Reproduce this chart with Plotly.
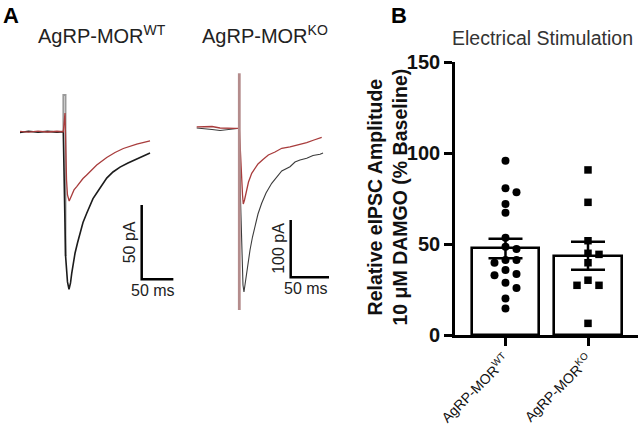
import numpy as np
import plotly.graph_objects as go

W, H = 640, 427
FONT = "Liberation Sans, Arial, sans-serif"

# ---------------- Panel B data ----------------
categories = ["AgRP-MOR<sup>WT</sup>", "AgRP-MOR<sup>KO</sup>"]
wt_values = [95.8, 80.6, 78.4, 72.0, 67.2, 53.5, 48.5, 47.3, 41.2, 41.2,
             39.7, 35.7, 33.5, 32.8, 28.7, 25.8, 20.0, 14.5]
ko_values = [90.7, 72.9, 51.8, 44.9, 44.3, 39.7, 30.1, 27.3, 27.3, 6.4]
y_ticks = [0, 50, 100, 150]

# ---------------- Panel A traces (ms, pA) ----------------
# AgRP-MOR WT, baseline (black)
wt_base_t = [-68.4, -55, -40, -25, -10, 0, 3.6, 5.1, 6.6, 9.0, 11.4, 13.3, 15.3, 18.5,
             22.4, 26.4, 31.1, 37.0, 42.2, 46.9, 52.8, 59.6, 68.6, 78.5, 89.6, 102.2,
             116.0, 125.9, 137.0]
wt_base_i = [-0.5, 0.3, -0.4, 0.2, -0.3, 0, -83.6, -93.1, -101.1, -106.1, -101.8, -95.3,
             -89.0, -81.8, -74.9, -68.4, -61.1, -54.9, -49.0, -45.0, -41.3, -36.9, -31.2,
             -27.1, -23.8, -21.1, -18.4, -16.4, -14.3]
# AgRP-MOR WT, DAMGO (red)
wt_damgo_t = [-68.4, -55, -40, -25, -10, 0, 2.7, 3.5, 5.1, 6.6, 9.3, 11.4, 13.7, 16.9,
              21.2, 26.4, 31.1, 37.0, 42.2, 52.8, 68.6, 81.7, 94.8, 116.0, 137.0]
wt_damgo_i = [0.2, -0.3, 0.4, -0.2, 0.3, 0, 12.6, -12.3, -32.5, -42.6, -46.6, -44.6,
              -41.9, -39.2, -37.0, -33.8, -31.5, -29.1, -26.8, -22.4, -17.4, -14.0,
              -11.3, -8.3, -6.1]
# AgRP-MOR WT, stimulus artifact (grey)
wt_art_t = [0, 0, 3.6, 3.6]
wt_art_i = [0, 24.7, 24.7, -83.6]

# AgRP-MOR KO, baseline (black)
ko_base_t = [-55.6, -44.8, -35.6, -25.2, -14.8, -5.6, 0, 1.6, 3.5, 4.8, 6.1, 7.4, 9.7,
             11.7, 14.0, 17.2, 20.5, 24.4, 29.2, 34.9, 42.3, 48.8, 55.4, 66.2, 72.7,
             79.2, 88.0, 96.2, 105.4, 109.3]
ko_base_i = [0.5, -0.3, -2.1, -3.8, -2.1, 0, 0, -125.0, -229.8, -273.5, -285.7, -273.5,
             -253.1, -231.6, -212.4, -189.7, -171.7, -149.6, -130.9, -112.9, -96.0,
             -85.0, -74.5, -67.0, -58.8, -55.3, -52.4, -47.5, -45.4, -43.1]
# AgRP-MOR KO, DAMGO (red)
ko_damgo_t = [-55.6, -44.8, -35.6, -25.2, -14.8, -5.6, 0, 2.2, 4.2, 5.2, 6.8, 9.7, 12.0,
              16.2, 19.8, 24.4, 30.9, 37.9, 46.6, 55.4, 66.2, 76.6, 88.0, 97.5, 107.6]
ko_damgo_i = [2.6, 2.3, 3.1, 0.5, 0.9, 0, 0, -72.8, -116.4, -132.1, -125.1, -107.7,
              -93.7, -78.5, -71.0, -62.3, -54.5, -46.6, -41.4, -34.9, -32.6, -29.1,
              -25.1, -20.4, -15.7]
# AgRP-MOR KO, stimulus artifact
ko_art_t = [0, 0]
ko_art_i = [96.0, -317.1]

# scale bars (ms, pA)
wt_scale = (50, 50)
ko_scale = (50, 100)


def px(xp):
    return xp / W


def py(yp):
    return 1 - yp / H


fig = go.Figure()

# ---------------- Panel A ----------------
wt_xr = [(15 - 63.3) / 0.633, (185 - 63.3) / 0.633]
wt_yr = [-(320 - 131.7) / 1.486, (131.7 - 60) / 1.486]
ko_xr = [(185 - 239.3) / 0.766, (340 - 239.3) / 0.766]
ko_yr = [-(320 - 128.3) / 0.573, (128.3 - 60) / 0.573]

BLACK_WT = "#1c1c1c"
BLACK_KO = "#3c3c3c"
RED = "#a83c3c"

fig.add_trace(go.Scatter(x=wt_art_t, y=wt_art_i, mode="lines", xaxis="x2", yaxis="y2",
                         line=dict(color="#9a9a9a", width=1.8), showlegend=False, hoverinfo="skip"))
fig.add_trace(go.Scatter(x=wt_base_t, y=wt_base_i, mode="lines", xaxis="x2", yaxis="y2",
                         line=dict(color=BLACK_WT, width=1.6), showlegend=False))
fig.add_trace(go.Scatter(x=wt_damgo_t, y=wt_damgo_i, mode="lines", xaxis="x2", yaxis="y2",
                         line=dict(color=RED, width=1.3), showlegend=False))

fig.add_trace(go.Scatter(x=ko_base_t, y=ko_base_i, mode="lines", xaxis="x3", yaxis="y3",
                         line=dict(color=BLACK_KO, width=1.1), showlegend=False))
fig.add_trace(go.Scatter(x=ko_damgo_t, y=ko_damgo_i, mode="lines", xaxis="x3", yaxis="y3",
                         line=dict(color=RED, width=1.3), showlegend=False))
fig.add_trace(go.Scatter(x=ko_art_t, y=ko_art_i, mode="lines", xaxis="x3", yaxis="y3",
                         line=dict(color="#b48c8c", width=2.8), showlegend=False, hoverinfo="skip"))

# scale bars
wt_sb_t0 = (141.7 - 63.3) / 0.633
wt_sb_i0 = -(279.3 - 131.7) / 1.486
fig.add_trace(go.Scatter(x=[wt_sb_t0, wt_sb_t0, wt_sb_t0 + wt_scale[0]],
                         y=[wt_sb_i0 + wt_scale[1], wt_sb_i0, wt_sb_i0],
                         mode="lines", xaxis="x2", yaxis="y2",
                         line=dict(color="black", width=2.5), showlegend=False))
ko_sb_t0 = (290.7 - 239.3) / 0.766
ko_sb_i0 = -(277.3 - 128.3) / 0.573
fig.add_trace(go.Scatter(x=[ko_sb_t0, ko_sb_t0, ko_sb_t0 + ko_scale[0]],
                         y=[ko_sb_i0 + ko_scale[1], ko_sb_i0, ko_sb_i0],
                         mode="lines", xaxis="x3", yaxis="y3",
                         line=dict(color="black", width=2.5), showlegend=False))

# ---------------- Panel B ----------------
B_X0, B_X1 = 455, 638
B_Y0, B_Y1 = 335, 62
xr = [-0.612, 1.606]
yr = [0, 150]
ppu_x = (B_X1 - B_X0) / (xr[1] - xr[0])
ppu_y = (B_Y0 - B_Y1) / (yr[1] - yr[0])


def swarm(values, step_px=5.5, min_dist=8.6):
    placed = []
    offs = [0.0] * len(values)
    order = sorted(range(len(values)), key=lambda i: -values[i])
    for i in order:
        yv = values[i] * ppu_y
        xv = 0.0
        for k in [0, 1, -1, 2, -2, 3, -3, 4, -4]:
            xv = k * step_px
            if all((xv - a) ** 2 + (yv - b) ** 2 >= min_dist ** 2 for a, b in placed):
                break
        placed.append((xv, yv))
        offs[i] = xv / ppu_x
    return offs


groups = [wt_values, ko_values]
means = [float(np.mean(v)) for v in groups]
sems = [float(np.std(v, ddof=1) / np.sqrt(len(v))) for v in groups]

fig.add_trace(go.Bar(x=[0, 1], y=means, width=0.816,
                     marker=dict(color="white", line=dict(color="black", width=2.6)),
                     error_y=dict(type="data", array=sems, visible=True, color="black",
                                  thickness=2.5, width=17),
                     showlegend=False))

for gi, (vals, sym) in enumerate(zip(groups, ["circle", "square"])):
    offs = swarm(vals)
    fig.add_trace(go.Scatter(x=[gi + o for o in offs], y=vals, mode="markers",
                             marker=dict(symbol=sym, size=8 if sym == "circle" else 7.5,
                                         color="black", line=dict(width=0)),
                             showlegend=False))

fig.update_layout(
    width=W, height=H, margin=dict(l=0, r=0, t=0, b=0, pad=0, autoexpand=False),
    paper_bgcolor="white", plot_bgcolor="rgba(0,0,0,0)",
    font=dict(family=FONT, color="black"),
    bargap=0,
    xaxis=dict(domain=[px(B_X0), px(B_X1)], range=xr, tickvals=[0, 1], ticktext=categories,
               tickangle=-45, ticks="outside", ticklen=8, tickwidth=2.5, tickcolor="black",
               showline=True, linecolor="black", linewidth=2.6, showgrid=False, zeroline=False,
               tickfont=dict(size=14, family=FONT, color="#111"), anchor="y", automargin=False),
    yaxis=dict(domain=[py(B_Y0), py(B_Y1)], range=yr, tickvals=y_ticks,
               ticks="outside", ticklen=8, tickwidth=2.5, tickcolor="black",
               showline=True, linecolor="black", linewidth=2.6, showgrid=False, zeroline=False,
               tickfont=dict(size=20, family="Liberation Sans, Arial", color="#111", weight="bold"),
               anchor="x", automargin=False),
    xaxis2=dict(domain=[px(15), px(185)], range=wt_xr, visible=False, anchor="y2"),
    yaxis2=dict(domain=[py(320), py(60)], range=wt_yr, visible=False, anchor="x2"),
    xaxis3=dict(domain=[px(185), px(340)], range=ko_xr, visible=False, anchor="y3"),
    yaxis3=dict(domain=[py(320), py(60)], range=ko_yr, visible=False, anchor="x3"),
)

ann = []
ann.append(dict(text="<b>A</b>", x=px(1), y=py(15), xref="paper", yref="paper",
                xanchor="left", yanchor="middle", showarrow=False, font=dict(size=22)))
ann.append(dict(text="<b>B</b>", x=px(389), y=py(15), xref="paper", yref="paper",
                xanchor="left", yanchor="middle", showarrow=False, font=dict(size=22)))
ann.append(dict(text="AgRP-MOR<sup>WT</sup>", x=px(101.5), y=py(35), xref="paper", yref="paper",
                xanchor="center", yanchor="middle", showarrow=False, font=dict(size=20, color="#222")))
ann.append(dict(text="AgRP-MOR<sup>KO</sup>", x=px(265), y=py(35), xref="paper", yref="paper",
                xanchor="center", yanchor="middle", showarrow=False, font=dict(size=20, color="#222")))
ann.append(dict(text="Electrical Stimulation", x=px(542), y=py(38), xref="paper", yref="paper",
                xanchor="center", yanchor="middle", showarrow=False, font=dict(size=19.5, color="#333")))
ann.append(dict(text="<b>Relative eIPSC Amplitude<br>10 μM DAMGO (% Baseline)</b>",
                x=px(387), y=py(197.5), xref="paper", yref="paper", textangle=-90,
                xanchor="center", yanchor="middle", showarrow=False, font=dict(size=19.5, color="#111")))
# scale bar labels
ann.append(dict(text="50 pA", x=wt_sb_t0, y=wt_sb_i0 + wt_scale[1] / 2, xref="x2", yref="y2",
                textangle=-90, xanchor="right", yanchor="middle", xshift=-2, showarrow=False,
                font=dict(size=16, color="#222")))
ann.append(dict(text="50 ms", x=wt_sb_t0 + wt_scale[0] / 2, y=wt_sb_i0, xref="x2", yref="y2",
                xanchor="center", yanchor="top", xshift=-5, yshift=-1, showarrow=False,
                font=dict(size=16, color="#222")))
ann.append(dict(text="100 pA", x=ko_sb_t0, y=ko_sb_i0 + ko_scale[1] / 2, xref="x3", yref="y3",
                textangle=-90, xanchor="right", yanchor="middle", xshift=-2, showarrow=False,
                font=dict(size=16, color="#222")))
ann.append(dict(text="50 ms", x=ko_sb_t0 + ko_scale[0] / 2, y=ko_sb_i0, xref="x3", yref="y3",
                xanchor="center", yanchor="top", xshift=-4, yshift=-1, showarrow=False,
                font=dict(size=16, color="#222")))
fig.update_layout(annotations=ann)

# remove the default 8 px page margin so the 640x427 figure fills the window exactly
fig.write_html("out.html", config={"displayModeBar": False},
               post_script="document.body.style.margin='0';")
